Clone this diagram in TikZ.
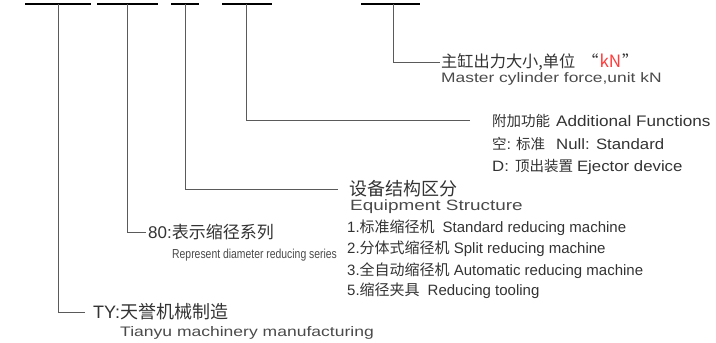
\documentclass[tikz,border=0pt]{standalone}
\usepackage{fontspec}
\setmainfont{Liberation Sans}
\newfontfamily\wide{Liberation Sans}[FakeStretch=1.27]
\newfontfamily\midw{Liberation Sans}[FakeStretch=1.12]
\newfontfamily\narrow{Liberation Sans}[FakeStretch=0.8]
\newfontfamily\zh{Noto Sans CJK SC}
\definecolor{txt}{HTML}{333333}
\definecolor{entxt}{HTML}{4A4A4A}
\definecolor{conn}{HTML}{5A5A5A}
\definecolor{kn}{HTML}{FF3B3B}
\tikzset{
  lbl/.style={anchor=west, inner sep=0pt, text=txt},
  enl/.style={anchor=west, inner sep=0pt, text=entxt},
  bar/.style={draw=black, line width=1.2pt},
  link/.style={draw=conn, line width=1pt},
}
\begin{document}
\begin{tikzpicture}[x=1pt,y=-1pt]
\useasboundingbox (0,0) rectangle (716,343);
% top bars
\coordinate (b1a) at (25,4);  \coordinate (b1b) at (91,4);
\coordinate (b2a) at (97,4);  \coordinate (b2b) at (158,4);
\coordinate (b3a) at (171,4); \coordinate (b3b) at (199,4);
\coordinate (b4a) at (222,4); \coordinate (b4b) at (272,4);
\coordinate (b5a) at (361,4); \coordinate (b5b) at (420,4);
\draw[bar] (b1a) -- (b1b);
\draw[bar] (b2a) -- (b2b);
\draw[bar] (b3a) -- (b3b);
\draw[bar] (b4a) -- (b4b);
\draw[bar] (b5a) -- (b5b);
% drop points
\coordinate (t1) at (58,4);
\coordinate (t2) at (127,4);
\coordinate (t3) at (185,4);
\coordinate (t4) at (246,4);
\coordinate (t5) at (393,4);
% line ends
\coordinate (e1) at (85,312);
\coordinate (e2) at (146,232);
\coordinate (e3) at (338,189);
\coordinate (e4) at (470,120);
\coordinate (e5) at (440,62);
\draw[link] (t1) |- (e1);
\draw[link] (t2) |- (e2);
\draw[link] (t3) |- (e3);
\draw[link] (t4) |- (e4);
\draw[link] (t5) |- (e5);
% texts
\node[lbl] (n5) at (441,62) {\fontsize{16.2}{18}\zh 主缸出力大小,单位\hspace{7pt}“\hspace{1pt}{\fontsize{17}{18}\selectfont\textcolor{kn}{kN}}\hspace{1pt}”};
\node[enl] (n5e) at (441,79) {\fontsize{13.7}{16}\wide Master cylinder force,unit kN};

\node[lbl] (n4) at (492,120.5) {\fontsize{14.5}{16}{\zh 附加功能}\hspace{6pt}{\fontsize{15.3}{17}\midw Additional Functions}};
\node[lbl] (n4a) at (492,143.5) {\fontsize{14.5}{16}{\zh 空}{\midw :}\hspace{5pt}{\zh 标准}\hspace{11pt}{\fontsize{15}{17}\midw Null: Standard}};
\node[lbl] (n4b) at (492,167) {\fontsize{15}{17}\midw D:\hspace{6pt}{\fontsize{14.5}{16}\zh 顶出装置}\hspace{4pt}Ejector device};

\node[lbl] (n3) at (349,189) {\fontsize{18}{20}\zh 设备结构区分};
\node[enl] (n3e) at (350,207) {\fontsize{14.9}{16}\wide Equipment Structure};
\node[lbl] (n3a) at (347,228) {\fontsize{15}{17}\selectfont 1.{\zh 标准缩径机}\hspace{8pt}Standard reducing machine};
\node[lbl] (n3b) at (347,249) {\fontsize{15}{17}\selectfont 2.{\zh 分体式缩径机} Split reducing machine};
\node[lbl] (n3c) at (347,271) {\fontsize{15}{17}\selectfont 3.{\zh 全自动缩径机} Automatic reducing machine};
\node[lbl] (n3d) at (347,291) {\fontsize{15}{17}\selectfont 5.{\zh 缩径夹具}\hspace{8pt}Reducing tooling};

\node[lbl] (n2) at (148,232) {\fontsize{17}{19}\selectfont 80:{\zh 表示缩径系列}};
\node[enl] (n2e) at (172,255) {\fontsize{13}{15}\narrow Represent diameter reducing series};

\node[lbl] (n1) at (93,312) {\fontsize{18}{20}\selectfont TY:{\zh 天誉机械制造}};
\node[enl] (n1e) at (120,333) {\fontsize{13.8}{16}\wide Tianyu machinery manufacturing};
\end{tikzpicture}
\end{document}
